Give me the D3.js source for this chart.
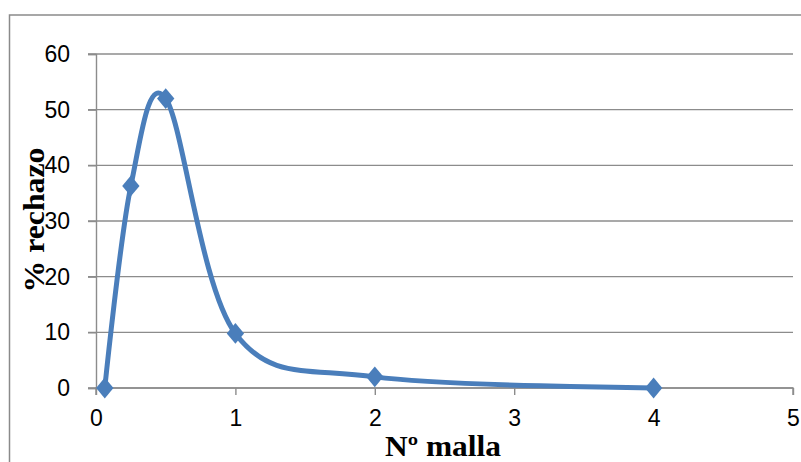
<!DOCTYPE html>
<html><head><meta charset="utf-8">
<script src="https://cdn.jsdelivr.net/npm/d3@7"></script>
<style>html,body{margin:0;padding:0;background:#fff}svg{display:block}</style>
</head><body>
<script>
const xValues = [0.063, 0.25, 0.5, 1, 2, 4];
const yValues = [0, 36.3, 52, 9.8, 2, 0];
const xTicks = [0, 1, 2, 3, 4, 5];
const yTicks = [0, 10, 20, 30, 40, 50, 60];
const xTitle = "Nº malla";
const yTitle = "% rechazo";

const W = 801, H = 462;
const svg = d3.select("body").append("svg").attr("width", W).attr("height", H);

// outer chart border
svg.append("rect").attr("x", 9.5).attr("y", 15).attr("width", 820).attr("height", 500)
  .attr("fill", "none").attr("stroke", "#8a8a8a").attr("stroke-width", 1.5);

const x = d3.scaleLinear().domain([0, 5]).range([96, 793]);
const y = d3.scaleLinear().domain([0, 60]).range([388, 54]);
const grid = "#8c8c8c";

// horizontal gridlines
svg.append("g").selectAll("line").data(yTicks).join("line")
  .attr("x1", 88).attr("x2", x(5)).attr("y1", d => y(d)).attr("y2", d => y(d))
  .attr("stroke", grid).attr("stroke-width", 1.4);

// titles (drawn below tick labels)
svg.append("text").attr("x", 443).attr("y", 456).attr("text-anchor", "middle")
  .attr("font-family", "Liberation Serif, Times New Roman, serif").attr("font-weight", "bold")
  .attr("font-size", 29).attr("textLength", 116).attr("lengthAdjust", "spacingAndGlyphs").text(xTitle);

svg.append("text").attr("transform", "translate(44,220) rotate(-90)").attr("text-anchor", "middle")
  .attr("font-family", "Liberation Serif, Times New Roman, serif").attr("font-weight", "bold")
  .attr("font-size", 29).attr("textLength", 145).attr("lengthAdjust", "spacingAndGlyphs").text(yTitle);

// y axis
const yAxis = svg.append("g").attr("transform", `translate(${x(0)},0)`)
  .call(d3.axisLeft(y).tickValues(yTicks).tickSize(8).tickPadding(18).tickFormat(d3.format("d")));
yAxis.select(".domain").attr("stroke", grid).attr("stroke-width", 1.4);
yAxis.selectAll(".tick line").attr("stroke", grid).attr("stroke-width", 1.4);
yAxis.selectAll("text").attr("font-family", "Liberation Sans, Arial, sans-serif").attr("font-size", 23).attr("fill", "#000");

// x axis
const xAxis = svg.append("g").attr("transform", `translate(0,${y(0)})`)
  .call(d3.axisBottom(x).tickValues(xTicks).tickSize(7).tickPadding(15).tickFormat(d3.format("d")));
xAxis.select(".domain").attr("stroke", grid).attr("stroke-width", 1.4).attr("d", `M${x(0)},7V0H${x(5)}V7`);
xAxis.selectAll(".tick line").attr("stroke", grid).attr("stroke-width", 1.4);
xAxis.selectAll("text").attr("font-family", "Liberation Sans, Arial, sans-serif").attr("font-size", 23).attr("fill", "#000");

const pts = xValues.map((v, i) => [v, yValues[i]]);
const blue = "#4A7EBB";

const line = d3.line().x(d => x(d[0])).y(d => y(d[1])).curve(d3.curveCardinal.tension(0));
svg.append("path").datum(pts).attr("d", line).attr("fill", "none")
  .attr("stroke", blue).attr("stroke-width", 5).attr("stroke-linejoin", "round");

const sym = d3.symbol().type(d3.symbolSquare).size(150);
svg.append("g").selectAll("path").data(pts).join("path")
  .attr("d", sym)
  .attr("transform", d => `translate(${x(d[0])},${y(d[1])}) scale(1,1.2) rotate(45)`)
  .attr("fill", blue);
</script>
</body></html>
